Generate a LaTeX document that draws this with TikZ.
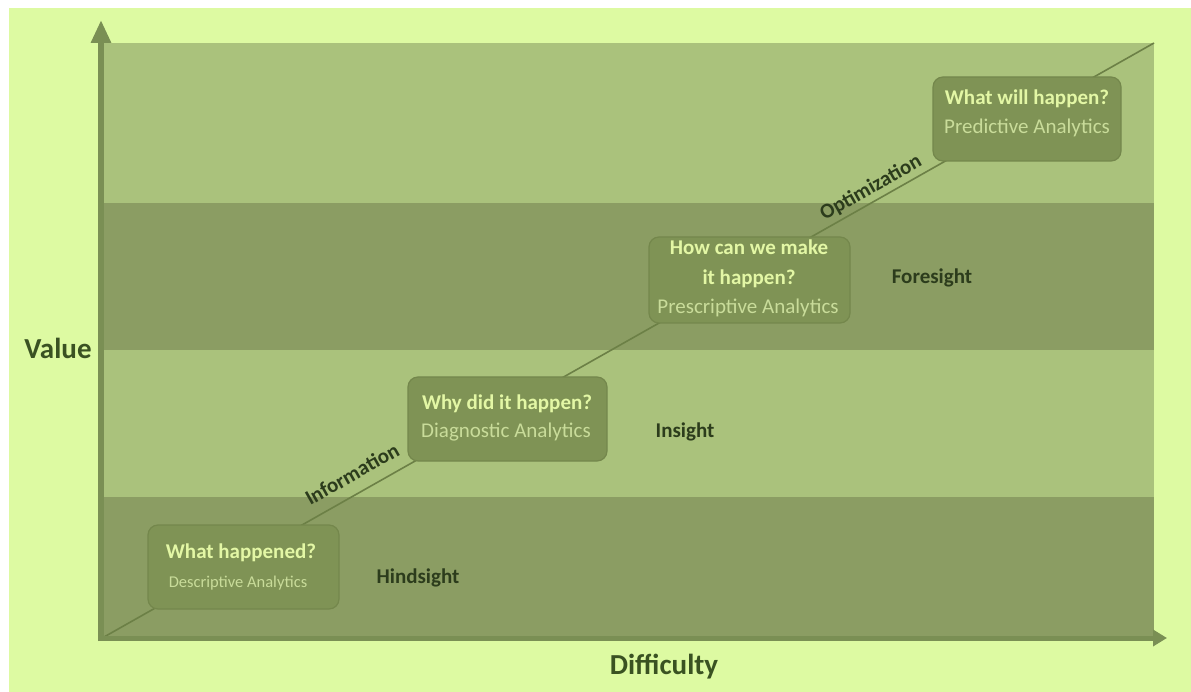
\documentclass[tikz,border=0pt]{standalone}
\usepackage{fontspec}
\setmainfont{Carlito}
\usetikzlibrary{arrows.meta}
\definecolor{bgc}{HTML}{DDFAA2}
\definecolor{lband}{HTML}{AAC27C}
\definecolor{dband}{HTML}{8B9D63}
\definecolor{boxfill}{HTML}{7F9355}
\definecolor{boxline}{HTML}{74874C}
\definecolor{axisc}{HTML}{7A8F54}
\definecolor{diagc}{HTML}{6C8046}
\definecolor{titlec}{HTML}{E3F7A5}
\definecolor{subc}{HTML}{C9DC9A}
\definecolor{labelc}{HTML}{2C3C1C}
\definecolor{axlabc}{HTML}{3A5222}
\tikzset{
  qbox/.style={draw=boxline, line width=1.2pt, fill=boxfill, rounded corners=10pt, inner sep=0pt, anchor=north west},
  qtitle/.style={text=titlec, font=\fontsize{21}{30}\selectfont\bfseries, align=center},
  qsub/.style={text=subc, font=\fontsize{21}{24}\selectfont},
  stage/.style={text=labelc, font=\fontsize{21}{24}\selectfont\bfseries},
  axlab/.style={text=axlabc, font=\fontsize{29}{32}\selectfont\bfseries},
  flow/.style={text=labelc, font=\fontsize{21}{24}\selectfont\bfseries, rotate=29.5, inner sep=1pt},
}
\begin{document}
\begin{tikzpicture}[x=1pt,y=-1pt]
\useasboundingbox (0,0) rectangle (1191,692);
\fill[white] (0,0) rectangle (1191,692);
\fill[bgc] (9,8) rectangle (1191,692);
% bands
\fill[lband] (101,43) rectangle (1154,203);
\fill[dband] (101,203) rectangle (1154,350);
\fill[lband] (101,350) rectangle (1154,497);
\fill[dband] (101,497) rectangle (1154,638);
% diagonal
\coordinate (ds) at (104,637);
\coordinate (de) at (1154,43);
\draw[diagc, line width=1.6pt] (ds) -- (de);
% axes
\coordinate (yo) at (101,641);
\coordinate (xo) at (98,638);
\coordinate (ytip) at (101,20);
\coordinate (xtip) at (1167,638);
\draw[axisc, line width=6pt, -{Triangle[width=19pt,length=23pt]}] (yo) -- (ytip);
\draw[axisc, line width=5pt, -{Triangle[width=16pt,length=14pt]}] (xo) -- (xtip);
% boxes
\path[qbox] (148,525) rectangle (339,609);
\node[qtitle] (t1) at (241,553) {What happened?};
\node[text=subc, font=\fontsize{16.5}{18}\selectfont] (s1) at (238,583) {Descriptive Analytics};
\path[qbox] (408,377) rectangle (607,461);
\node[qtitle] (t2) at (507,404) {Why did it happen?};
\node[qsub] (s2) at (506,432) {Diagnostic Analytics};
\path[qbox] (649,237) rectangle (850,323);
\node[qtitle] (t3) at (749,264) {How can we make\\it happen?};
\node[qsub] (s3) at (748,308) {Prescriptive Analytics};
\path[qbox] (933,77) rectangle (1121,161);
\node[qtitle] (t4) at (1027,99) {What will happen?};
\node[qsub] (s4) at (1027,128) {Predictive Analytics};
% stage labels
\node[stage] (hind) at (418,578) {Hindsight};
\node[stage] (ins) at (685,432) {Insight};
\node[stage] (fore) at (932,278) {Foresight};
% flow labels
\node[flow] (info) at (352,474) {Information};
\node[flow] (opt) at (871,188) {Optimization};
% axis labels
\node[axlab] (val) at (58,348) {Value};
\node[axlab] (diff) at (664,667) {Difficulty};
\end{tikzpicture}
\end{document}
